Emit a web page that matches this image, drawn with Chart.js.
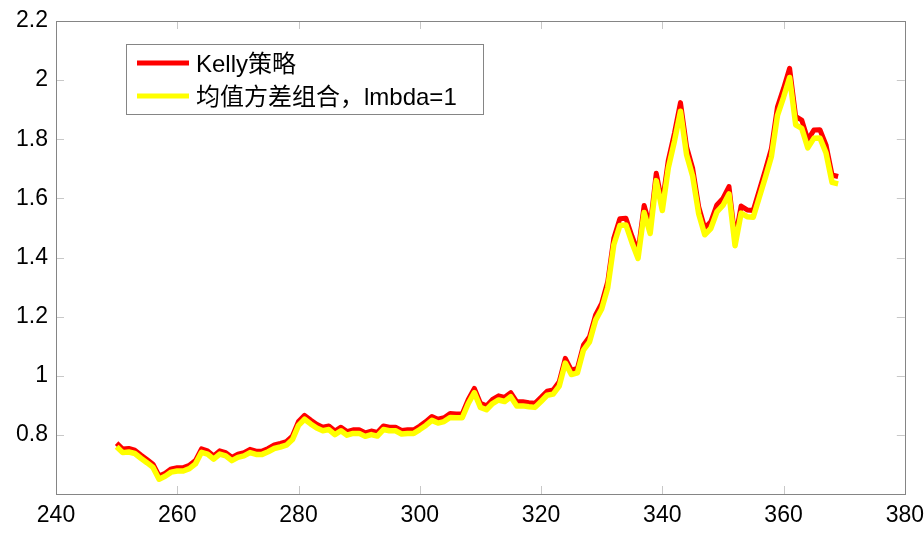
<!DOCTYPE html>
<html>
<head>
<meta charset="utf-8">
<script src="https://cdn.jsdelivr.net/npm/chart.js@4.4.1/dist/chart.umd.min.js"></script>
<style>
  body { margin: 0; background: #fff; }
  canvas { display: block; }
</style>
</head>
<body>
<canvas id="myChart" width="924" height="537"></canvas>
<script>
// trading days 250 .. 369
let days = [];
for (let d = 250; d <= 369; d++) {
  days.push(d);
}

let kelly = [
  0.772, 0.752, 0.754, 0.748, 0.732, 0.717, 0.701, 0.661, 0.670, 0.685,
  0.689, 0.689, 0.697, 0.713, 0.753, 0.746, 0.729, 0.746, 0.740, 0.724,
  0.735, 0.740, 0.751, 0.745, 0.745, 0.754, 0.766, 0.771, 0.777, 0.796,
  0.845, 0.866, 0.850, 0.836, 0.826, 0.830, 0.813, 0.826, 0.811, 0.817,
  0.817, 0.807, 0.813, 0.808, 0.830, 0.826, 0.826, 0.815, 0.817, 0.817,
  0.830, 0.845, 0.862, 0.853, 0.858, 0.872, 0.871, 0.871, 0.920, 0.957,
  0.907, 0.898, 0.920, 0.932, 0.927, 0.943, 0.912, 0.912, 0.909, 0.907,
  0.927, 0.948, 0.952, 0.980, 1.059, 1.019, 1.025, 1.104, 1.132, 1.206,
  1.245, 1.318, 1.465, 1.531, 1.533, 1.472, 1.418, 1.576, 1.504, 1.685,
  1.583, 1.730, 1.820, 1.924, 1.775, 1.702, 1.572, 1.499, 1.521, 1.578,
  1.600, 1.640, 1.462, 1.574, 1.561, 1.559, 1.628, 1.696, 1.769, 1.910,
  1.972, 2.040, 1.877, 1.865, 1.798, 1.831, 1.832, 1.781, 1.679, 1.674
];

let meanVar = [
  0.760, 0.740, 0.742, 0.737, 0.721, 0.706, 0.690, 0.650, 0.660, 0.674,
  0.678, 0.678, 0.686, 0.702, 0.741, 0.735, 0.718, 0.735, 0.729, 0.713,
  0.724, 0.729, 0.740, 0.734, 0.734, 0.743, 0.754, 0.759, 0.765, 0.784,
  0.832, 0.853, 0.837, 0.823, 0.814, 0.818, 0.801, 0.814, 0.799, 0.805,
  0.805, 0.795, 0.801, 0.796, 0.818, 0.814, 0.814, 0.803, 0.805, 0.805,
  0.818, 0.832, 0.849, 0.840, 0.845, 0.859, 0.858, 0.858, 0.906, 0.943,
  0.893, 0.885, 0.906, 0.918, 0.913, 0.929, 0.898, 0.898, 0.895, 0.893,
  0.913, 0.934, 0.938, 0.965, 1.043, 1.004, 1.010, 1.087, 1.115, 1.188,
  1.226, 1.298, 1.443, 1.508, 1.510, 1.450, 1.397, 1.552, 1.481, 1.660,
  1.559, 1.704, 1.793, 1.895, 1.748, 1.676, 1.548, 1.477, 1.498, 1.554,
  1.576, 1.615, 1.440, 1.550, 1.538, 1.536, 1.604, 1.671, 1.742, 1.881,
  1.942, 2.009, 1.849, 1.837, 1.771, 1.803, 1.804, 1.754, 1.654, 1.649
];

let xTicks = [240, 260, 280, 300, 320, 340, 360, 380];
let yTicks = [0.6, 0.8, 1, 1.2, 1.4, 1.6, 1.8, 2, 2.2];
let legendLabels = ['Kelly策略', '均值方差组合，lmbda=1'];
let lineColors = ['#ff0000', '#ffff00'];

const FONT = "'Liberation Sans', 'Noto Sans CJK SC', sans-serif";

function toPoints(values) {
  let pts = [];
  for (let i = 0; i < days.length; i++) {
    pts.push({ x: days[i], y: values[i] });
  }
  return pts;
}

// white background, MATLAB style box with inward ticks, legend inside
const matlabBox = {
  id: 'matlabBox',
  beforeDraw(chart) {
    const c = chart.ctx;
    c.save();
    c.fillStyle = '#fff';
    c.fillRect(0, 0, chart.width, chart.height);
    c.restore();
  },
  afterDraw(chart) {
    const c = chart.ctx;
    const a = chart.chartArea;
    const sx = chart.scales.x;
    const sy = chart.scales.y;
    const tl = 8;
    c.save();
    c.lineWidth = 1;
    c.strokeStyle = '#c8c8c8';
    c.beginPath();
    for (let i = 0; i < xTicks.length; i++) {
      let px = Math.round(sx.getPixelForValue(xTicks[i])) + 0.5;
      c.moveTo(px, a.bottom); c.lineTo(px, a.bottom - tl);
      c.moveTo(px, a.top); c.lineTo(px, a.top + tl);
    }
    for (let i = 0; i < yTicks.length; i++) {
      let py = Math.round(sy.getPixelForValue(yTicks[i])) + 0.5;
      c.moveTo(a.left, py); c.lineTo(a.left + tl, py);
      c.moveTo(a.right, py); c.lineTo(a.right - tl, py);
    }
    c.stroke();
    c.strokeStyle = '#858585';
    c.strokeRect(Math.round(a.left) + 0.5, Math.round(a.top) + 0.5,
      Math.round(a.right - a.left), Math.round(a.bottom - a.top));

    // legend
    let lx = 126, ly = 44, lw = 357, lh = 70;
    c.fillStyle = '#fff';
    c.fillRect(lx, ly, lw, lh);
    c.strokeStyle = '#858585';
    c.strokeRect(lx + 0.5, ly + 0.5, lw, lh);
    let rows = [63, 96];
    c.font = '24px ' + FONT;
    c.textBaseline = 'middle';
    for (let i = 0; i < legendLabels.length; i++) {
      c.strokeStyle = lineColors[i];
      c.lineWidth = 5;
      c.beginPath();
      c.moveTo(137, rows[i]);
      c.lineTo(189, rows[i]);
      c.stroke();
      c.fillStyle = '#000';
      c.fillText(legendLabels[i], 196, rows[i] + 2);
    }
    c.restore();
  }
};

var ctx = document.getElementById('myChart').getContext('2d');
var myChart = new Chart(ctx, {
  type: 'line',
  data: {
    datasets: [{
      label: legendLabels[0],
      data: toPoints(kelly),
      borderColor: lineColors[0],
      borderWidth: 5,
      pointRadius: 0,
      tension: 0,
      borderJoinStyle: 'round',
      order: 2
    },
    {
      label: legendLabels[1],
      data: toPoints(meanVar),
      borderColor: lineColors[1],
      borderWidth: 5.5,
      pointRadius: 0,
      tension: 0,
      borderJoinStyle: 'round',
      order: 1
    }]
  },
  options: {
    responsive: false,
    animation: false,
    devicePixelRatio: 1,
    layout: { padding: { top: 21, right: 14, left: 0, bottom: 0 } },
    plugins: {
      legend: { display: false },
      tooltip: { enabled: false }
    },
    scales: {
      x: {
        type: 'linear',
        min: 240,
        max: 380,
        grid: { display: false },
        border: { display: false },
        afterBuildTicks(scale) {
          scale.ticks = xTicks.map(v => ({ value: v }));
        },
        afterFit(scale) { scale.height = 43; },
        ticks: {
          autoSkip: false,
          maxRotation: 0,
          padding: 0,
          color: '#000',
          font: { family: FONT, size: 23 },
          callback: v => String(v)
        }
      },
      y: {
        min: 0.6,
        max: 2.2,
        grid: { display: false },
        border: { display: false },
        afterBuildTicks(scale) {
          scale.ticks = yTicks.map(v => ({ value: v }));
        },
        afterFit(scale) { scale.width = 56; },
        ticks: {
          autoSkip: false,
          padding: 0,
          color: '#000',
          font: { family: FONT, size: 23 },
          callback: v => (v < 0.7 ? '' : String(Math.round(v * 10) / 10))
        }
      }
    }
  },
  plugins: [matlabBox]
});
</script>
</body>
</html>
